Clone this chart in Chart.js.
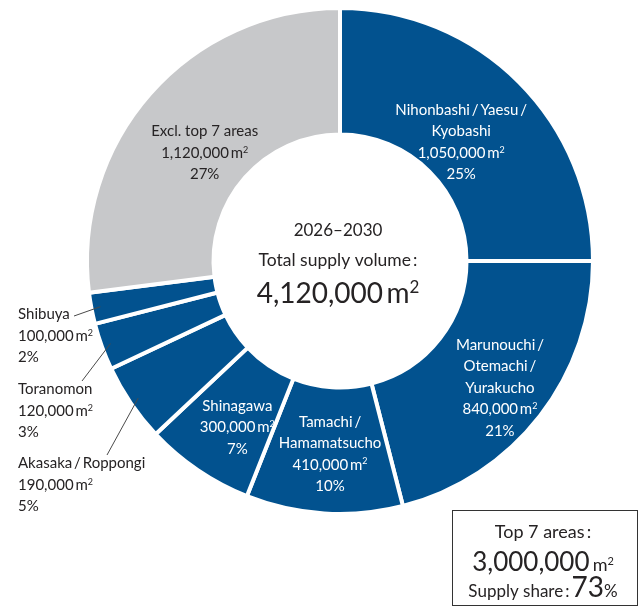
<!DOCTYPE html>
<html>
<head>
<meta charset="utf-8">
<script src="https://cdn.jsdelivr.net/npm/chart.js@4/dist/chart.umd.min.js"></script>
<style>
  html, body { margin: 0; padding: 0; background: #fff; }
  #grafico { display: block; }
</style>
</head>
<body>
<canvas id="grafico" width="640" height="607"></canvas>
<script>
// Dados
const areas = [
    ["Nihonbashi\u2009/\u2009Yaesu\u2009/", "Kyobashi"],
    ["Marunouchi\u2009/", "Otemachi\u2009/", "Yurakucho"],
    ["Tamachi\u2009/", "Hamamatsucho"],
    ["Shinagawa"],
    ["Akasaka\u2009/\u2009Roppongi"],
    ["Toranomon"],
    ["Shibuya"],
    ["Excl. top 7 areas"]
];
const volumes = [1050000, 840000, 410000, 300000, 190000, 120000, 100000, 1120000];
const shares = [25, 21, 10, 7, 5, 3, 2, 27];
const periodo = "2026\u20132030";
const volumeTotal = 4120000;
const volumeTop7 = 3000000;
const shareTop7 = 73;

const FONTE = 'Lato, "Open Sans", sans-serif';
const AZUL = "#02528f";
const CINZA = "#c7c8ca";
const TEXTO = "#262324";
const cores = shares.map((_, i) => i === shares.length - 1 ? CINZA : AZUL);

// Posição dos rótulos: "arco" = bloco centrado no meio da fatia (com ajuste),
// "lado" = texto à esquerda com linha de chamada até a fatia
const layoutRotulos = [
    { tipo: "arco", dx: -13, dy: 15, cor: "#fff" },
    { tipo: "arco", dx: 10, dy: 10, cor: "#fff" },
    { tipo: "arco", dx: 2, dy: 3, cor: "#fff" },
    { tipo: "arco", dx: 4, dy: 9, cor: "#fff" },
    { tipo: "lado", x: 18, y: 463, linha: [107, 455] },
    { tipo: "lado", x: 18, y: 389, linha: [82, 381] },
    { tipo: "lado", x: 18, y: 314, linha: [74, 316] },
    { tipo: "arco", dx: 7, dy: 17, cor: TEXTO }
];
const ALTURA_LINHA = 21.5;
const TAM_ROTULO = 15;

function fmt(n) {
    return n.toLocaleString("en-US");
}

// texto com y no meio da altura das maiúsculas
function texto(ctx, str, x, y, size, align, cor) {
    ctx.font = size + "px " + FONTE;
    ctx.fillStyle = cor;
    ctx.textAlign = align;
    ctx.textBaseline = "alphabetic";
    ctx.fillText(str, x, y + size * 0.36);
}

// "1,050,000 m²"
function larguraVolume(ctx, valor, size, mSize) {
    ctx.font = size + "px " + FONTE;
    const wN = ctx.measureText(fmt(valor)).width;
    ctx.font = mSize + "px " + FONTE;
    const wM = ctx.measureText("m").width;
    ctx.font = Math.round(mSize * 0.62) + "px " + FONTE;
    const wS = ctx.measureText("2").width;
    const gap = size * 0.12;
    return { wN, wM, wS, gap, total: wN + gap + wM + wS };
}

function volume(ctx, valor, x, y, size, align, cor, mSize) {
    mSize = mSize || size;
    const m = larguraVolume(ctx, valor, size, mSize);
    const x0 = align === "left" ? x : x - m.total / 2;
    const base = y + size * 0.36;
    ctx.fillStyle = cor;
    ctx.textAlign = "left";
    ctx.textBaseline = "alphabetic";
    ctx.font = size + "px " + FONTE;
    ctx.fillText(fmt(valor), x0, base);
    ctx.font = mSize + "px " + FONTE;
    ctx.fillText("m", x0 + m.wN + m.gap, base);
    ctx.font = Math.round(mSize * 0.62) + "px " + FONTE;
    ctx.fillText("2", x0 + m.wN + m.gap + m.wM, base - mSize * 0.36);
}

function blocoRotulo(ctx, i, x, yTopo, align, cor) {
    let y = yTopo;
    areas[i].forEach(l => {
        texto(ctx, l, x, y, TAM_ROTULO, align, cor);
        y += ALTURA_LINHA;
    });
    volume(ctx, volumes[i], x, y, TAM_ROTULO, align, cor);
    y += ALTURA_LINHA;
    texto(ctx, shares[i] + "%", x, y, TAM_ROTULO, align, cor);
}

const rotulos = {
    id: "rotulos",
    afterDatasetsDraw(chart) {
        const ctx = chart.ctx;
        const arcos = chart.getDatasetMeta(0).data;
        ctx.save();

        arcos.forEach((arco, i) => {
            const p = arco.getProps(["x", "y", "startAngle", "endAngle", "innerRadius", "outerRadius"], true);
            const meio = (p.startAngle + p.endAngle) / 2;
            const cfg = layoutRotulos[i];
            if (cfg.tipo === "arco") {
                const r = (p.innerRadius + p.outerRadius) / 2;
                const cx = p.x + r * Math.cos(meio) + cfg.dx;
                const cy = p.y + r * Math.sin(meio) + cfg.dy;
                const n = areas[i].length + 2;
                blocoRotulo(ctx, i, cx, cy - (n - 1) * ALTURA_LINHA / 2, "center", cfg.cor);
            } else {
                const r = p.outerRadius - 9;
                ctx.strokeStyle = "#4a4a4a";
                ctx.lineWidth = 1;
                ctx.beginPath();
                ctx.moveTo(cfg.linha[0], cfg.linha[1]);
                ctx.lineTo(p.x + r * Math.cos(meio), p.y + r * Math.sin(meio));
                ctx.stroke();
                blocoRotulo(ctx, i, cfg.x, cfg.y, "left", TEXTO);
            }
        });

        // texto central
        const c = arcos[0];
        const cx = c.x - 2, cy = c.y;
        texto(ctx, periodo, cx, cy - 31, 17, "center", TEXTO);
        texto(ctx, "Total supply volume\u2009:", cx, cy - 1, 17.5, "center", TEXTO);
        volume(ctx, volumeTotal, cx, cy + 32, 28, "center", TEXTO);

        // quadro do top 7
        ctx.strokeStyle = "#333";
        ctx.lineWidth = 1;
        ctx.strokeRect(452.5, 510.5, 185, 95);
        const bx = 543;
        texto(ctx, "Top 7 areas\u2009:", bx, 532, 18, "center", TEXTO);
        volume(ctx, volumeTop7, bx, 562, 26, "center", TEXTO, 18);

        ctx.font = "17px " + FONTE;
        const t1 = "Supply share\u2009:";
        const w1 = ctx.measureText(t1).width;
        ctx.font = "28px " + FONTE;
        const w2 = ctx.measureText(String(shareTop7)).width;
        ctx.font = "17px " + FONTE;
        const w3 = ctx.measureText("%").width;
        const x0 = bx - (w1 + 2 + w2 + w3) / 2;
        const base = 587 + 28 * 0.36;
        ctx.fillStyle = TEXTO;
        ctx.textAlign = "left";
        ctx.font = "17px " + FONTE;
        ctx.fillText(t1, x0, base);
        ctx.font = "28px " + FONTE;
        ctx.fillText(String(shareTop7), x0 + w1 + 2, base);
        ctx.font = "17px " + FONTE;
        ctx.fillText("%", x0 + w1 + 2 + w2, base);

        ctx.restore();
    }
};

const grafico = new Chart(document.getElementById("grafico"), {
    type: "doughnut",
    data: {
        labels: areas.map(a => a.join(" ")),
        datasets: [{
            data: shares,
            backgroundColor: cores,
            borderColor: "#ffffff",
            borderWidth: 4,
            hoverOffset: 0,
            offset: 0
        }]
    },
    options: {
        responsive: false,
        animation: false,
        cutout: "50%",
        layout: { padding: { left: 85, right: 45, top: 6, bottom: 91 } },
        plugins: {
            legend: { display: false },
            tooltip: { enabled: false }
        },
        events: []
    },
    plugins: [rotulos]
});
</script>
</body>
</html>
